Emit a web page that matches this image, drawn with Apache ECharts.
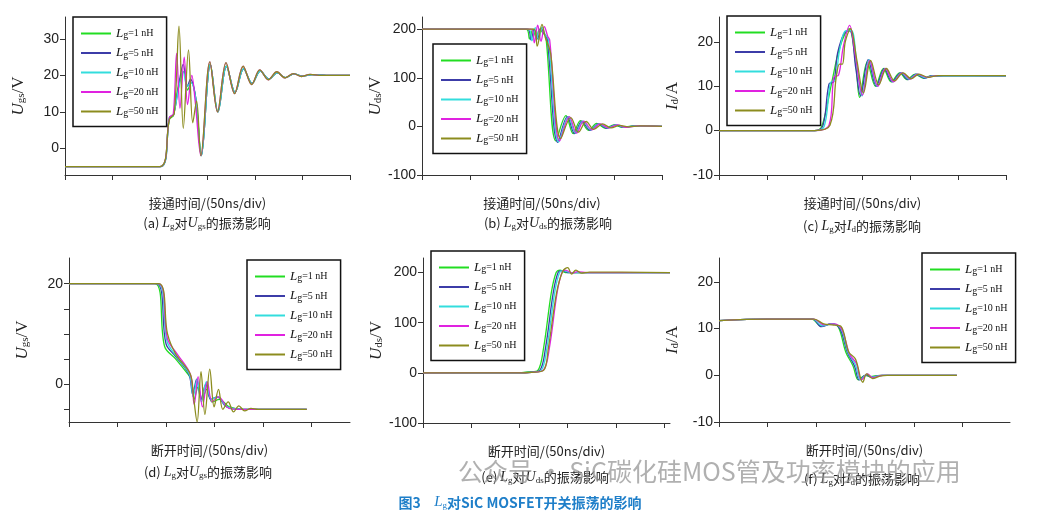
<!DOCTYPE html>
<html>
<head>
<meta charset="utf-8">
<script src="https://cdn.jsdelivr.net/npm/echarts@6/dist/echarts.min.js"></script>
<style>
    html, body { margin: 0; padding: 0; background: #fff; }
    #chart { width: 1041px; height: 521px; }
</style>
</head>
<body>
<div id="chart"></div>
<script>
// series names and colours
const names = ['Lg=1 nH', 'Lg=5 nH', 'Lg=10 nH', 'Lg=20 nH', 'Lg=50 nH'];
const colors = ['#22dd22', '#3c3ca8', '#33dddd', '#e022e0', '#8c8c1e'];

// (a) turn-on Ugs, x in div
const aTail1 = [[2.87, -2], [3.06, 23], [3.22, 10], [3.4, 22.5], [3.58, 15.3], [3.76, 21.8], [3.94, 17.8], [4.11, 21.2], [4.29, 19], [4.47, 20.7], [4.64, 19.4], [4.82, 20.4], [5.0, 19.8], [5.2, 20.2], [5.5, 20], [6, 20]];
const aTail2 = [[2.86, -2], [3.05, 23.7], [3.21, 10], [3.39, 23.5], [3.57, 15], [3.75, 22.5], [3.93, 17.5], [4.1, 21.5], [4.28, 18.8], [4.46, 21], [4.63, 19.3], [4.81, 20.5], [4.98, 19.7], [5.16, 20.3], [5.4, 20], [6, 20]];
const aLg1 = [[0, -5], [2.0, -5], [2.2, 8], [2.28, 9], [2.4, 18], [2.5, 21], [2.58, 16], [2.66, 18], [2.76, 13]].concat(aTail1);
const aLg5 = [[0, -5], [2.02, -5], [2.2, 8.5], [2.28, 9], [2.38, 16], [2.49, 23], [2.58, 17], [2.64, 19], [2.75, 14]].concat(aTail1);
const aLg10 = [[0, -5], [2.02, -5], [2.2, 8.5], [2.28, 9], [2.4, 17], [2.49, 21], [2.57, 17], [2.65, 18], [2.76, 13]].concat(aTail1);
const aLg20 = [[0, -5], [2.0, -5], [2.2, 8.5], [2.28, 9.5], [2.35, 26], [2.42, 11], [2.51, 25], [2.58, 12], [2.67, 20], [2.74, 13]].concat(aTail2);
const aLg50 = [[0, -5], [2.0, -5], [2.2, 8], [2.3, 9.5], [2.4, 33.5], [2.49, 5.5], [2.6, 27], [2.69, 7], [2.77, 13]].concat(aTail2);

// (b) turn-on Uds
const bLg1 = [[0, 200], [2.17, 200], [2.24, 180], [2.31, 200], [2.38, 182], [2.45, 200], [2.52, 192], [2.58, 185], [2.79, -30], [3.0, 22], [3.15, -15], [3.3, 12], [3.47, -8], [3.64, 6], [3.82, -4], [4.0, 3], [4.18, -2], [4.4, 1], [5, 0]];
const bLg5 = [[0, 200], [2.2, 200], [2.27, 178], [2.34, 200], [2.41, 180], [2.48, 202], [2.55, 190], [2.61, 180], [2.83, -33], [3.03, 20], [3.18, -15], [3.33, 11], [3.5, -8], [3.67, 5], [3.85, -4], [4.03, 3], [4.21, -2], [4.43, 1], [5, 0]];
const bLg10 = [[0, 200], [2.22, 200], [2.29, 176], [2.36, 203], [2.43, 178], [2.5, 204], [2.57, 188], [2.63, 180], [2.85, -32], [3.05, 20], [3.2, -14], [3.35, 11], [3.52, -7], [3.69, 5], [3.87, -3], [4.05, 3], [4.23, -2], [4.46, 1], [5, 0]];
const bLg20 = [[0, 200], [2.28, 200], [2.34, 172], [2.41, 208], [2.48, 175], [2.55, 205], [2.62, 185], [2.66, 178], [2.87, -30], [3.07, 20], [3.22, -14], [3.37, 11], [3.54, -7], [3.71, 5], [3.89, -3], [4.07, 3], [4.25, -2], [4.5, 1], [5, 0]];
const bLg50 = [[0, 200], [2.33, 200], [2.4, 165], [2.5, 210], [2.57, 182], [2.62, 170], [2.68, 150], [2.89, -25], [3.1, 18], [3.26, -12], [3.42, 10], [3.58, -6], [3.76, 5], [3.94, -3], [4.12, 2], [4.3, -1], [4.55, 1], [5, 0]];

// (c) turn-on Id
const cLg1 = [[0, 0], [2.0, 0], [2.15, 1], [2.35, 10.5], [2.48, 17], [2.6, 21], [2.72, 23], [2.86, 15], [2.94, 7.5], [3.1, 15.5], [3.27, 10], [3.44, 14], [3.6, 11], [3.78, 13], [3.93, 11.5], [4.1, 12.7], [4.28, 11.8], [4.45, 12.4], [4.7, 12.2], [6, 12.3]];
const cLg5 = [[0, 0], [2.0, 0], [2.17, 1], [2.3, 10.5], [2.4, 11], [2.48, 17.5], [2.62, 22], [2.74, 22.5], [2.86, 14], [2.96, 7.8], [3.12, 16], [3.29, 10], [3.46, 14], [3.62, 11], [3.8, 13], [3.95, 11.5], [4.12, 12.7], [4.3, 11.8], [4.47, 12.4], [4.72, 12.2], [6, 12.3]];
const cLg10 = [[0, 0], [2.0, 0], [2.2, 1], [2.33, 10.8], [2.43, 11.5], [2.52, 18], [2.65, 22.5], [2.77, 22.5], [2.89, 14], [2.99, 7.8], [3.14, 16], [3.31, 10], [3.48, 14], [3.64, 11], [3.82, 13], [3.97, 11.6], [4.14, 12.7], [4.32, 11.9], [4.5, 12.4], [4.75, 12.2], [6, 12.3]];
const cLg20 = [[0, 0], [2.0, 0], [2.3, 1.2], [2.4, 12], [2.5, 12.5], [2.6, 19], [2.73, 23.7], [2.85, 17], [3.0, 8], [3.15, 15.8], [3.32, 10], [3.48, 14], [3.65, 11], [3.83, 13], [4.0, 11.6], [4.15, 12.7], [4.35, 12], [4.55, 12.4], [6, 12.4]];
const cLg50 = [[0, 0], [2.0, 0], [2.32, 1.2], [2.45, 12], [2.52, 15], [2.58, 15], [2.64, 20], [2.75, 23], [2.88, 16], [3.02, 8.5], [3.17, 15.8], [3.34, 10.3], [3.5, 14], [3.67, 11.2], [3.85, 13], [4.02, 11.7], [4.18, 12.7], [4.38, 12], [4.58, 12.4], [6, 12.4]];

// (d) turn-off Ugs
const dLg1 = [[0, 20], [1.77, 20], [1.97, 7.5], [2.2, 5], [2.45, 2], [2.52, 1], [2.58, -3], [2.66, -0.5], [2.74, -3], [2.84, -1], [2.95, -3.5], [3.1, -3], [3.3, -4.5], [3.6, -5], [4.9, -5]];
const dLg5 = [[0, 20], [1.8, 20], [2.0, 8], [2.2, 5.5], [2.47, 2], [2.55, -2], [2.63, 1], [2.72, -3], [2.82, 0], [2.92, -3], [3.05, -2.5], [3.25, -4.5], [3.6, -5], [4.9, -5]];
const dLg10 = [[0, 20], [1.82, 20], [2.02, 8.5], [2.22, 5.5], [2.48, 2], [2.56, -2.5], [2.64, 1], [2.73, -3.5], [2.83, 0.5], [2.93, -3], [3.06, -2.5], [3.26, -4.5], [3.6, -5], [4.9, -5]];
const dLg20 = [[0, 20], [1.84, 20], [2.03, 9], [2.23, 6], [2.5, 2], [2.58, -4], [2.66, 1.5], [2.75, -4.5], [2.85, 0.5], [2.95, -3.5], [3.08, -2.5], [3.3, -4.8], [3.6, -5], [4.9, -5]];
const dLg50 = [[0, 20], [1.85, 20], [2.03, 10], [2.2, 6], [2.5, 2], [2.56, -2], [2.64, -7.5], [2.72, 2.5], [2.8, -6], [2.9, 3], [2.99, -4.5], [3.08, -1], [3.17, -5], [3.28, -3.5], [3.39, -5.5], [3.5, -4.3], [3.62, -5.3], [3.75, -4.8], [3.9, -5], [4.9, -5]];

// (e) turn-off Uds
const eLg1 = [[0, 0], [1.95, 0], [2.2, 2], [2.38, 5], [2.5, 50], [2.66, 160], [2.76, 200], [2.84, 205], [2.95, 200], [5.12, 200]];
const eLg5 = [[0, 0], [1.95, 0], [2.2, 1], [2.42, 5], [2.54, 50], [2.7, 160], [2.8, 200], [2.88, 204], [3.0, 200], [5.12, 200]];
const eLg10 = [[0, 0], [1.95, -1], [2.25, 1], [2.45, 5], [2.57, 50], [2.73, 160], [2.83, 200], [2.91, 204], [3.05, 200], [5.12, 200]];
const eLg20 = [[0, 0], [1.95, 0], [2.25, 1], [2.5, 6], [2.62, 50], [2.78, 160], [2.88, 200], [2.95, 205], [3.1, 199], [3.2, 202], [3.4, 200], [5.12, 200]];
const eLg50 = [[0, 0], [1.95, 0], [2.25, 1], [2.5, 5], [2.6, 50], [2.77, 160], [2.9, 203], [3.0, 210], [3.08, 197], [3.17, 205], [3.28, 199], [3.45, 201], [5.12, 200]];

// (f) turn-off Id
const fLg1 = [[0, 11.7], [1.0, 12], [1.9, 12], [2.1, 10.5], [2.3, 11], [2.45, 10.3], [2.6, 5], [2.75, 2], [2.86, -1], [3.0, 0], [3.1, -0.3], [3.3, 0], [4.88, 0]];
const fLg5 = [[0, 11.7], [1.0, 12], [1.92, 12], [2.1, 10.4], [2.3, 11], [2.48, 10], [2.63, 5], [2.78, 2], [2.88, -1], [3.02, 0.1], [3.12, -0.4], [3.35, 0], [4.88, 0]];
const fLg10 = [[0, 11.7], [1.0, 12], [1.93, 12], [2.12, 10.6], [2.32, 11], [2.5, 10], [2.65, 4.8], [2.8, 2.2], [2.9, -1], [3.04, 0.2], [3.14, -0.4], [3.35, 0], [4.88, 0]];
const fLg20 = [[0, 11.7], [1.0, 12], [1.95, 12], [2.15, 10.8], [2.35, 11], [2.52, 9.8], [2.68, 4.5], [2.82, 2.5], [2.92, -1], [3.05, 0.3], [3.15, -0.5], [3.35, 0], [4.88, 0]];
const fLg50 = [[0, 11.7], [1.0, 12], [1.95, 12], [2.15, 11], [2.32, 10.8], [2.5, 10.5], [2.66, 5], [2.8, 3.5], [2.95, -1.5], [3.03, 0.3], [3.15, -0.7], [3.3, -0.2], [3.45, 0], [4.88, 0]];

const sub = {
    i: { fontFamily: 'Liberation Serif', fontStyle: 'italic', fontSize: 17 },
    s: { fontFamily: 'Liberation Serif', fontSize: 11, padding: [6, 0, 0, 0] },
    t: { fontFamily: 'Liberation Serif', fontSize: 17 }
};

const panels = [
    { grid: [65, 17, 285, 158], xMax: 6, yMin: -7.3, yMax: 36, labels: [0, 10, 20, 30], ticks: [0, 10, 20, 30],
      yName: '{i|U}{s|gs}{t|/V}', xName: '接通时间/(50ns/div)', legend: [73, 17], data: [aLg1, aLg5, aLg10, aLg20, aLg50],
      cap: ['(a) ', 'U', 'gs'], capPos: [207, 216] },
    { grid: [422, 17, 240, 158], xMax: 5, yMin: -100, yMax: 225, labels: [-100, 0, 100, 200], ticks: [-100, 0, 100, 200],
      yName: '{i|U}{s|ds}{t|/V}', xName: '接通时间/(50ns/div)', legend: [433, 44], data: [bLg1, bLg5, bLg10, bLg20, bLg50],
      cap: ['(b) ', 'U', 'ds'], capPos: [548, 216] },
    { grid: [719, 17, 287, 158], xMax: 6, yMin: -10, yMax: 25.6, labels: [-10, 0, 10, 20], ticks: [-10, 0, 10, 20],
      yName: '{i|I}{s|d}{t|/A}', xName: '接通时间/(50ns/div)', legend: [727, 16], data: [cLg1, cLg5, cLg10, cLg20, cLg50],
      cap: ['(c) ', 'I', 'd'], capPos: [862, 219] },
    { grid: [69, 258, 281, 164], xMax: 5.79, yMin: -7.5, yMax: 25.1, labels: [0, 20], ticks: [-5, 0, 5, 10, 15, 20],
      yName: '{i|U}{s|gs}{t|/V}', xName: '断开时间/(50ns/div)', legend: [247, 260], data: [dLg1, dLg5, dLg10, dLg20, dLg50],
      cap: ['(d) ', 'U', 'gs'], capPos: [208, 465] },
    { grid: [423, 258, 247, 165], xMax: 5.12, yMin: -100, yMax: 229, labels: [-100, 0, 100, 200], ticks: [-100, 0, 100, 200],
      yName: '{i|U}{s|ds}{t|/V}', xName: '断开时间/(50ns/div)', legend: [431, 251], data: [eLg1, eLg5, eLg10, eLg20, eLg50],
      cap: ['(e) ', 'U', 'ds'], capPos: [545, 470] },
    { grid: [719, 258, 291, 164], xMax: 5.97, yMin: -10, yMax: 25.1, labels: [-10, 0, 10, 20], ticks: [-10, 0, 10, 20],
      yName: '{i|I}{s|d}{t|/A}', xName: '断开时间/(50ns/div)', legend: [922, 253], data: [fLg1, fLg5, fLg10, fLg20, fLg50],
      cap: ['(f) ', 'I', 'd'], capPos: [862, 472] }
];

const axisLine = { show: true, onZero: false, lineStyle: { color: '#333', width: 1 } };
const grids = [], xAxes = [], yAxes = [], series = [], legends = [], graphics = [];

panels.forEach(function (p, k) {
    grids.push({ left: p.grid[0], top: p.grid[1], width: p.grid[2], height: p.grid[3] });
    xAxes.push({
        gridIndex: k, type: 'value', min: 0, max: p.xMax,
        axisLine: axisLine, splitLine: { show: false },
        axisTick: { show: true, customValues: [0, 1, 2, 3, 4, 5, 6].filter(v => v <= p.xMax + 0.01), length: 5, inside: false, lineStyle: { color: '#333' } },
        axisLabel: { show: false },
        name: p.xName, nameLocation: 'middle', nameGap: 22,
        nameTextStyle: { fontFamily: 'Noto Sans CJK SC', fontSize: 13, color: '#222' }
    });
    yAxes.push({
        gridIndex: k, type: 'value', min: p.yMin, max: p.yMax,
        axisLine: axisLine, splitLine: { show: false },
        axisTick: { show: true, customValues: p.ticks, length: 5, lineStyle: { color: '#333' } },
        axisLabel: { customValues: p.labels, fontFamily: 'Liberation Sans', fontSize: 14, color: '#222', margin: 6 },
        name: p.yName, nameLocation: 'middle', nameGap: 38, nameRotate: 90,
        nameTextStyle: { rich: sub, color: '#222' }
    });
    p.data.forEach(function (d, j) {
        series.push({
            type: 'line', name: names[j], xAxisIndex: k, yAxisIndex: k, data: d,
            smooth: 0.35, showSymbol: false, symbol: 'none',
            lineStyle: { color: colors[j], width: 1.3 }, itemStyle: { color: colors[j] }
        });
    });
    legends.push({
        left: p.legend[0], top: p.legend[1], orient: 'vertical', data: names,
        backgroundColor: '#fff', borderColor: '#111', borderWidth: 1.5, padding: [10, 8, 8, 8],
        itemWidth: 30, itemHeight: 2, itemGap: 6, icon: 'rect',
        formatter: function (n) { return '{i|L}{s|g}{t|' + n.slice(2) + '}'; },
        textStyle: {
            rich: {
                i: { fontFamily: 'Liberation Serif', fontStyle: 'italic', fontSize: 13, color: '#111' },
                s: { fontFamily: 'Liberation Serif', fontSize: 10, color: '#111', padding: [4, 0, 0, 0] },
                t: { fontFamily: 'Liberation Serif', fontSize: 10, color: '#111' }
            }
        }
    });
    graphics.push({
        type: 'text', x: p.capPos[0], y: p.capPos[1],
        style: {
            text: '{c|' + p.cap[0] + '}{i|L}{s|g}{c|对}{i|' + p.cap[1] + '}{s|' + p.cap[2] + '}{c|的振荡影响}',
            align: 'center', verticalAlign: 'top',
            rich: {
                c: { fontFamily: 'Noto Sans CJK SC', fontSize: 13, fill: '#222' },
                i: { fontFamily: 'Liberation Serif', fontStyle: 'italic', fontSize: 14, fill: '#222' },
                s: { fontFamily: 'Liberation Serif', fontSize: 9, fill: '#222', padding: [6, 0, 0, 0] }
            }
        }
    });
});

graphics.push({
    type: 'text', x: 458, y: 459, z: 100,
    style: { text: '公众号 · SiC碳化硅MOS管及功率模块的应用', fontFamily: 'Noto Sans CJK SC', fontSize: 25, fill: 'rgba(150,150,150,0.75)' }
});
graphics.push({
    type: 'text', x: 520, y: 495,
    style: {
        text: '{b|图3}{g|      }{i|L}{s|g}{b|对SiC MOSFET开关振荡的影响}', align: 'center',
        rich: {
            b: { fontFamily: 'Noto Sans CJK SC', fontWeight: 'bold', fontSize: 14, fill: '#1f7fc9' },
            g: { fontSize: 8 },
            i: { fontFamily: 'Liberation Serif', fontStyle: 'italic', fontSize: 15, fill: '#1f7fc9' },
            s: { fontFamily: 'Liberation Serif', fontSize: 9, fill: '#1f7fc9', padding: [6, 0, 0, 0] }
        }
    }
});

const myChart = echarts.init(document.getElementById('chart'));
myChart.setOption({
    animation: false,
    backgroundColor: '#fff',
    grid: grids, xAxis: xAxes, yAxis: yAxes,
    legend: legends, series: series, graphic: graphics
});
</script>
</body>
</html>
